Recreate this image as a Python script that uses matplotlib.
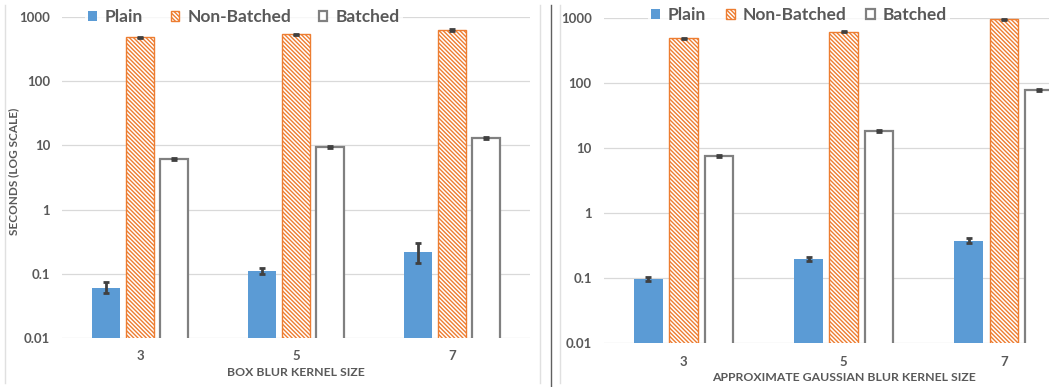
import numpy as np
import matplotlib
matplotlib.use("Agg")
import matplotlib.pyplot as plt
from matplotlib.lines import Line2D
from matplotlib.ticker import FixedLocator, FixedFormatter, NullLocator

plt.rcParams['font.family'] = ['Lato', 'DejaVu Sans']
plt.rcParams['hatch.linewidth'] = 1.0

kernel_sizes = ["3", "5", "7"]
series = ["Plain", "Non-Batched", "Batched"]
ytick_vals = [0.01, 0.1, 1, 10, 100, 1000]
ytick_labels = ["0.01", "0.1", "1", "10", "100", "1000"]

# box blur (left panel)
box_plain = [0.061, 0.111, 0.219]
box_plain_lo = [0.050, 0.100, 0.147]
box_plain_hi = [0.075, 0.125, 0.300]
box_nonbatched = [480, 540, 630]
box_nonbatched_err = [15, 12, 18]
box_batched = [6.1, 9.4, 13.0]
box_batched_err = [0.2, 0.25, 0.5]

# approximate gaussian blur (right panel)
gau_plain = [0.098, 0.198, 0.375]
gau_plain_lo = [0.092, 0.185, 0.345]
gau_plain_hi = [0.104, 0.212, 0.410]
gau_nonbatched = [490, 620, 960]
gau_nonbatched_err = [15, 15, 15]
gau_batched = [7.7, 18.5, 79]
gau_batched_err = [0.25, 0.5, 2.0]

BLUE = "#5B9BD5"
ORANGE = "#ED7D31"
GREY = "#808080"
TEXT = "#595959"
ERR = "#404040"


def draw_panel(ax, plain, plo, phi, nb, nb_err, bat, bat_err, xlabel, ylabel=None):
    x = np.arange(len(kernel_sizes))
    w = 0.178
    off = 0.22
    plain = np.array(plain)
    perr = [plain - np.array(plo), np.array(phi) - plain]
    ax.bar(x - off, plain, w, color=BLUE, label=series[0], zorder=2)
    ax.errorbar(x - off, plain, yerr=perr, fmt='none', ecolor=ERR, elinewidth=2,
                capsize=2, capthick=2, zorder=3)
    ax.bar(x, nb, w, color="white", edgecolor=ORANGE, hatch="\\" * 8,
           linewidth=1.0, label=series[1], zorder=2)
    ax.errorbar(x, nb, yerr=nb_err, fmt='none', ecolor=ERR, elinewidth=2,
                capsize=2, capthick=2, zorder=3)
    ax.bar(x + off, bat, w, color="white", edgecolor=GREY, linewidth=1.6,
           label=series[2], zorder=2)
    ax.errorbar(x + off, bat, yerr=bat_err, fmt='none', ecolor=ERR, elinewidth=2,
                capsize=2, capthick=2, zorder=3)

    ax.set_yscale("log")
    ax.set_ylim(0.01, 1000)
    ax.set_xlim(-0.5, len(kernel_sizes) - 0.5)
    ax.yaxis.set_major_locator(FixedLocator(ytick_vals))
    ax.yaxis.set_major_formatter(FixedFormatter(ytick_labels))
    ax.yaxis.set_minor_locator(NullLocator())
    ax.set_xticks(x)
    ax.set_xticklabels(kernel_sizes)
    ax.tick_params(length=0, colors=TEXT, labelsize=9.5)
    ax.tick_params(axis='y', pad=8.5)
    ax.tick_params(axis='x', pad=9)
    for lab in ax.get_xticklabels() + ax.get_yticklabels():
        lab.set_fontweight("bold")
    ax.grid(axis='y', color="#D9D9D9", linewidth=0.9, zorder=0)
    ax.set_axisbelow(True)
    for s in ax.spines.values():
        s.set_visible(False)
    ax.set_xlabel(xlabel, color=TEXT, fontsize=8.8, fontweight="bold", labelpad=3)
    if ylabel:
        ax.set_ylabel(ylabel, color=TEXT, fontsize=8.5, fontweight="bold")


W, H = 1049, 387
fig = plt.figure(figsize=(W / 100, H / 100), dpi=100)

ax1 = fig.add_axes([62 / W, (H - 338) / H, (530 - 62) / W, (338 - 17) / H])
draw_panel(ax1, box_plain, box_plain_lo, box_plain_hi, box_nonbatched,
           box_nonbatched_err, box_batched, box_batched_err,
           "BOX BLUR KERNEL SIZE", "SECONDS (LOG SCALE)")
ax1.yaxis.set_label_coords(-(62 - 19) / (530 - 62), 0.52)

ax2 = fig.add_axes([603.5 / W, (H - 343.3) / H, (1084 - 603.5) / W, (343.3 - 18.3) / H])
draw_panel(ax2, gau_plain, gau_plain_lo, gau_plain_hi, gau_nonbatched,
           gau_nonbatched_err, gau_batched, gau_batched_err,
           "APPROXIMATE GAUSSIAN BLUR KERNEL SIZE")

for ax, xa, ya, cs in [(ax1, 76 / W, 1 - 17 / H, 1.6), (ax2, 639 / W, 1 - 15 / H, 1.15)]:
    leg = fig.legend(*ax.get_legend_handles_labels(), loc="center left",
                     bbox_to_anchor=(xa, ya), ncol=3, frameon=True,
                     facecolor="white", edgecolor="none", fancybox=False,
                     handlelength=0.5, handleheight=0.5, handletextpad=0.45,
                     columnspacing=cs, borderpad=0.2,
                     prop={"size": 12.5, "weight": "bold"})
    for t in leg.get_texts():
        t.set_color(TEXT)

# chart borders and separator
fig.add_artist(Line2D([5 / W, 5 / W], [1 - 383 / H, 1 - 5 / H], color="#E0E0E0", lw=1))
fig.add_artist(Line2D([540 / W, 540 / W], [1 - 383 / H, 1 - 5 / H], color="#E0E0E0", lw=1))
fig.add_artist(Line2D([560 / W, 560 / W], [1 - 383 / H, 1 - 5 / H], color="#E0E0E0", lw=1))
fig.add_artist(Line2D([551 / W, 551 / W], [0, 1 - 5 / H], color="#606060", lw=1))

fig.savefig("out.png", dpi=100)
